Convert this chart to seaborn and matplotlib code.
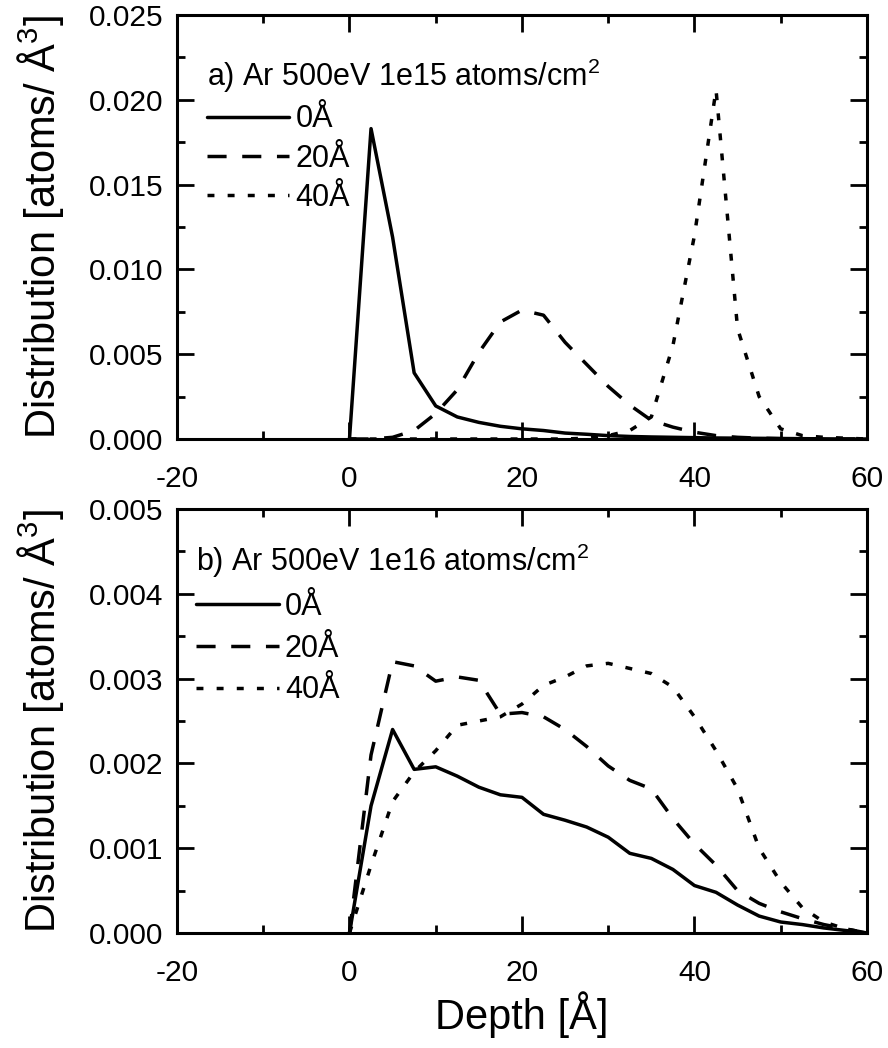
import numpy as np
import pandas as pd
import seaborn as sns
from matplotlib import pyplot as plt
from matplotlib.ticker import MultipleLocator, FormatStrFormatter

# depth grid [Å]
depth = [0, 2.5, 5, 7.5, 10, 12.5, 15, 17.5, 20, 22.5, 25, 27.5, 30,
         32.5, 35, 37.5, 40, 42.5, 45, 47.5, 50, 52.5, 55, 57.5, 60]
labels = ["0Å", "20Å", "40Å"]

# a) 1e15 atoms/cm2
a_0 = [0, 0.0183, 0.0119, 0.0039, 0.00195, 0.0013, 0.00098, 0.00075, 0.0006,
       0.0005, 0.00035, 0.00028, 0.0002, 0.00015, 0.00012, 0.0001, 0.00008,
       0.00006, 0.00005, 0.00004, 0.00003, 0.00002, 0.00001, 0, 0]
a_20 = [0, 0, 0.0001, 0.0005, 0.0015, 0.0029, 0.0051, 0.0069, 0.0076, 0.0073,
        0.0057, 0.0044, 0.0031, 0.002, 0.0011, 0.0007, 0.0004, 0.0002, 0.0001,
        0.00005, 0.00002, 0, 0, 0, 0]
a_40 = [0, 0, 0, 0, 0, 0, 0, 0, 0, 0, 0, 0.00005, 0.0002, 0.0005, 0.0013,
        0.0055, 0.012, 0.0206, 0.0065, 0.0025, 0.0006, 0.0002, 0.0001, 0.00005, 0]

# b) 1e16 atoms/cm2
b_0 = [0, 0.0015, 0.0024, 0.00193, 0.00196, 0.00185, 0.00172, 0.00163, 0.0016,
       0.0014, 0.00133, 0.00125, 0.00113, 0.00094, 0.00088, 0.00075, 0.00056,
       0.00048, 0.00033, 0.0002, 0.00013, 0.0001, 0.00006, 0.00003, 0]
b_20 = [0, 0.0021, 0.0032, 0.00315, 0.00297, 0.00302, 0.00298, 0.00258, 0.0026,
        0.00255, 0.0024, 0.0022, 0.00197, 0.0018, 0.0017, 0.00135, 0.00105,
        0.0008, 0.0005, 0.00035, 0.00025, 0.00017, 0.0001, 0.00005, 0]
b_40 = [0, 0.0008, 0.00155, 0.0019, 0.00215, 0.00245, 0.0025, 0.00255, 0.0027,
        0.00292, 0.00302, 0.00315, 0.00318, 0.00312, 0.00306, 0.0029, 0.00255,
        0.00215, 0.0017, 0.001, 0.0006, 0.0003, 0.00013, 0.00005, 0]


def long_frame(series):
    parts = [pd.DataFrame({"Depth": depth, "Dist": s, "pos": lab})
             for s, lab in zip(series, labels)]
    return pd.concat(parts, ignore_index=True)


sns.set_style("ticks")
plt.rcParams["font.family"] = ["Liberation Sans", "DejaVu Sans"]
plt.rcParams["mathtext.default"] = "regular"
plt.rcParams["axes.unicode_minus"] = False
for key in ["text.color", "axes.labelcolor", "xtick.color", "ytick.color", "axes.edgecolor"]:
    plt.rcParams[key] = "black"

LW = 2.5
dashes = {"0Å": "", "20Å": (5.5, 4.5), "40Å": (2, 3.8)}

fig = plt.figure(figsize=(8.88, 10.48), dpi=100)
ax_a = fig.add_axes([0.1993, 0.5811, 0.7770, 0.4046])
ax_b = fig.add_axes([0.1993, 0.1097, 0.7770, 0.4046])

panels = [
    (ax_a, [a_0, a_20, a_40], 0.025, 0.005, "a) Ar 500eV 1e15 atoms/cm$^2$", (0.043, 0.901), 0.3),
    (ax_b, [b_0, b_20, b_40], 0.005, 0.001, "b) Ar 500eV 1e16 atoms/cm$^2$", (0.028, 0.922), 0.38),
]

for ax, series, ytop, ystep, title, anchor, spacing in panels:
    df = long_frame(series)
    sns.lineplot(data=df, x="Depth", y="Dist", style="pos", dashes=dashes,
                 color="black", lw=LW, ax=ax, legend="full")
    ax.set_xlim(-20, 60)
    ax.set_ylim(0, ytop)
    ax.xaxis.set_major_locator(MultipleLocator(20))
    ax.xaxis.set_minor_locator(MultipleLocator(10))
    ax.yaxis.set_major_locator(MultipleLocator(ystep))
    ax.yaxis.set_minor_locator(MultipleLocator(ystep / 2))
    ax.yaxis.set_major_formatter(FormatStrFormatter("%.3f"))
    ax.tick_params(which="both", direction="in", top=True, right=True,
                   width=2, labelsize=21.5)
    ax.tick_params(which="major", length=12)
    ax.tick_params(which="minor", length=6)
    ax.tick_params(axis="y", pad=10)
    ax.tick_params(axis="x", pad=19)
    for sp in ax.spines.values():
        sp.set_linewidth(2.2)
    ax.set_ylabel("Distribution [atoms/ Å$^3$]", fontsize=30, labelpad=16)
    ax.set_xlabel("")
    sns.move_legend(ax, "upper left", bbox_to_anchor=anchor, title=title,
                    frameon=False, fontsize=22, title_fontsize=22,
                    alignment="left", handlelength=2.7, handletextpad=0.2,
                    labelspacing=spacing, borderpad=0, borderaxespad=0)
    for h in ax.get_legend().legend_handles:
        h.set_linewidth(LW)

ax_b.set_xlabel("Depth [Å]", fontsize=30, labelpad=3)

fig.savefig("out.png", dpi=100)
